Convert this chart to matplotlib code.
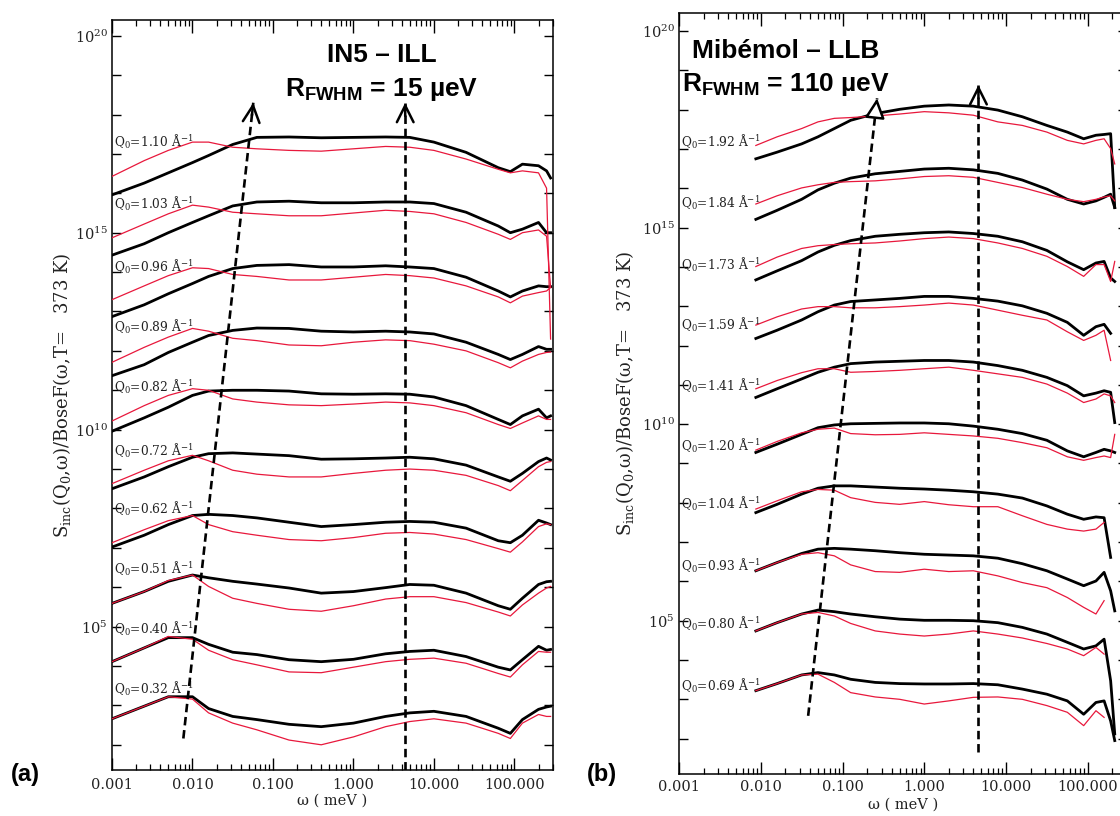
"""Two log-log panels: S_inc(Q0, w)/BoseF for IN5 (ILL) and Mibemol (LLB)."""

import matplotlib
matplotlib.use("Agg")
import matplotlib.pyplot as plt
from matplotlib.ticker import FixedLocator, FixedFormatter, FuncFormatter, LogLocator, NullFormatter, NullLocator
import numpy as np

plt.rcParams["font.family"] = ["DejaVu Serif"]
plt.rcParams["mathtext.fontset"] = "custom"
plt.rcParams["mathtext.rm"] = "DejaVu Serif"
plt.rcParams["mathtext.it"] = "DejaVu Serif:italic"
plt.rcParams["mathtext.bf"] = "Liberation Sans:bold"

# ------------------------------------------------------------
# data (log10 values)
# ------------------------------------------------------------
X_TICKS = [0.001, 0.01, 0.1, 1.0, 10.0, 100.0]
X_TICK_LABELS = ["0.001", "0.010", "0.100", "1.000", "10.000", "100.000"]

IN5_LOG_OMEGA = [-3.0, -2.6, -2.3, -2.0, -1.8, -1.5, -1.2, -0.8, -0.4, 0.0,
                 0.4, 0.7, 1.0, 1.4, 1.8, 1.95, 2.1, 2.3, 2.4, 2.45]
IN5_Q = ["1.10", "1.03", "0.96", "0.89", "0.82", "0.72", "0.62", "0.51", "0.40", "0.32"]
IN5_BLACK = [
    [15.96, 16.26, 16.52, 16.78, 16.96, 17.24, 17.42, 17.43, 17.41, 17.42, 17.43, 17.42, 17.30, 17.04, 16.65, 16.55, 16.74, 16.70, 16.57, 16.39],
    [14.43, 14.72, 15.00, 15.26, 15.43, 15.68, 15.78, 15.80, 15.76, 15.76, 15.78, 15.78, 15.74, 15.52, 15.17, 15.00, 15.09, 15.26, 15.00, 15.00],
    [12.87, 13.17, 13.45, 13.71, 13.89, 14.09, 14.17, 14.19, 14.13, 14.13, 14.16, 14.13, 14.09, 13.87, 13.52, 13.37, 13.52, 13.65, 13.63, 13.63],
    [11.37, 11.65, 11.96, 12.22, 12.39, 12.52, 12.58, 12.57, 12.50, 12.48, 12.50, 12.48, 12.43, 12.22, 11.91, 11.78, 11.91, 12.11, 12.04, 12.04],
    [9.96, 10.30, 10.57, 10.87, 10.98, 11.00, 11.00, 10.98, 10.91, 10.90, 10.91, 10.90, 10.83, 10.61, 10.26, 10.13, 10.35, 10.52, 10.30, 10.35],
    [8.50, 8.80, 9.06, 9.30, 9.39, 9.41, 9.38, 9.34, 9.25, 9.26, 9.28, 9.30, 9.26, 9.10, 8.80, 8.69, 8.89, 9.19, 9.28, 9.23],
    [7.02, 7.32, 7.59, 7.82, 7.85, 7.82, 7.76, 7.65, 7.54, 7.59, 7.65, 7.67, 7.65, 7.50, 7.18, 7.13, 7.32, 7.70, 7.63, 7.59],
    [5.59, 5.89, 6.15, 6.31, 6.24, 6.15, 6.08, 5.98, 5.85, 5.89, 5.99, 6.07, 6.05, 5.85, 5.53, 5.44, 5.72, 6.07, 6.14, 6.15],
    [4.11, 4.46, 4.72, 4.72, 4.55, 4.35, 4.29, 4.16, 4.11, 4.17, 4.31, 4.37, 4.40, 4.24, 3.97, 3.90, 4.16, 4.50, 4.40, 4.42],
    [2.66, 2.98, 3.22, 3.22, 2.92, 2.72, 2.64, 2.52, 2.46, 2.55, 2.72, 2.81, 2.85, 2.72, 2.42, 2.29, 2.64, 2.90, 2.96, 2.98],
]
IN5_RED = [
    [16.43, 16.83, 17.09, 17.30, 17.30, 17.17, 17.13, 17.09, 17.07, 17.13, 17.19, 17.17, 17.09, 16.87, 16.61, 16.52, 16.57, 16.52, 16.13, 12.30],
    [14.87, 15.22, 15.48, 15.70, 15.65, 15.52, 15.48, 15.43, 15.43, 15.50, 15.57, 15.54, 15.48, 15.26, 14.96, 14.83, 15.00, 15.07, 14.91, 13.61],
    [13.30, 13.65, 13.91, 14.11, 14.09, 13.94, 13.89, 13.80, 13.80, 13.87, 13.94, 13.91, 13.85, 13.65, 13.37, 13.22, 13.39, 13.48, 13.52, 13.61],
    [11.71, 12.09, 12.35, 12.57, 12.50, 12.32, 12.26, 12.15, 12.13, 12.22, 12.28, 12.26, 12.17, 12.00, 11.70, 11.57, 11.74, 11.91, 11.96, 11.97],
    [10.22, 10.61, 10.87, 11.04, 11.00, 10.78, 10.70, 10.63, 10.61, 10.65, 10.70, 10.68, 10.61, 10.43, 10.13, 10.03, 10.17, 10.35, 10.26, 10.26],
    [8.63, 8.97, 9.21, 9.35, 9.21, 8.97, 8.87, 8.80, 8.80, 8.89, 8.97, 9.00, 8.97, 8.84, 8.58, 8.45, 8.71, 9.06, 9.17, 9.19],
    [7.13, 7.46, 7.69, 7.82, 7.59, 7.41, 7.32, 7.21, 7.18, 7.26, 7.37, 7.39, 7.35, 7.21, 6.98, 6.89, 7.15, 7.54, 7.61, 7.59],
    [5.59, 5.89, 6.17, 6.31, 6.02, 5.72, 5.59, 5.44, 5.39, 5.53, 5.70, 5.76, 5.76, 5.61, 5.37, 5.27, 5.55, 5.85, 5.98, 6.02],
    [4.11, 4.46, 4.75, 4.68, 4.40, 4.16, 4.03, 3.85, 3.83, 3.97, 4.11, 4.17, 4.20, 4.07, 3.81, 3.72, 4.03, 4.37, 4.35, 4.35],
    [2.66, 2.98, 3.22, 3.16, 2.81, 2.55, 2.38, 2.12, 2.00, 2.20, 2.46, 2.59, 2.66, 2.55, 2.29, 2.16, 2.55, 2.77, 2.72, 2.72],
]
IN5_LABEL_LOG_S = [17.30, 15.74, 14.13, 12.61, 11.09, 9.45, 7.98, 6.46, 4.94, 3.42]

MIB_LOG_OMEGA = [-2.06, -1.8, -1.5, -1.3, -1.1, -0.9, -0.6, -0.3, 0.0, 0.3,
                 0.6, 0.9, 1.2, 1.5, 1.75, 1.95, 2.1, 2.2, 2.28, 2.33]
MIB_Q = ["1.92", "1.84", "1.73", "1.59", "1.41", "1.20", "1.04", "0.93", "0.80", "0.69"]
NAN = float("nan")
MIB_BLACK = [
    [16.75, 16.92, 17.13, 17.31, 17.52, 17.73, 17.90, 18.01, 18.09, 18.12, 18.09, 17.99, 17.82, 17.60, 17.43, 17.26, 17.35, 17.37, 17.39, 15.51],
    [15.21, 15.44, 15.72, 15.96, 16.13, 16.26, 16.37, 16.43, 16.49, 16.51, 16.47, 16.38, 16.21, 15.98, 15.72, 15.60, 15.68, 15.77, 15.85, 15.51],
    [13.67, 13.90, 14.16, 14.38, 14.55, 14.67, 14.78, 14.83, 14.87, 14.89, 14.85, 14.78, 14.64, 14.42, 14.13, 13.93, 14.10, 14.14, 13.72, 13.63],
    [12.18, 12.39, 12.65, 12.86, 13.03, 13.12, 13.16, 13.20, 13.25, 13.25, 13.20, 13.13, 13.01, 12.82, 12.59, 12.26, 12.48, 12.54, 12.31, NAN],
    [10.68, 10.90, 11.15, 11.32, 11.45, 11.54, 11.58, 11.60, 11.62, 11.62, 11.58, 11.49, 11.37, 11.19, 10.98, 10.72, 10.79, 10.85, 10.81, 10.04],
    [9.28, 9.49, 9.74, 9.91, 9.98, 10.01, 10.02, 10.03, 10.03, 10.01, 9.95, 9.87, 9.76, 9.59, 9.32, 9.17, 9.28, 9.36, 9.32, 9.28],
    [7.75, 7.96, 8.22, 8.37, 8.43, 8.43, 8.40, 8.37, 8.35, 8.32, 8.28, 8.22, 8.12, 7.92, 7.71, 7.58, 7.64, 7.62, 6.61, NAN],
    [6.27, 6.48, 6.71, 6.82, 6.84, 6.82, 6.78, 6.73, 6.69, 6.67, 6.65, 6.59, 6.45, 6.27, 6.06, 5.89, 6.01, 6.23, 5.76, 5.25],
    [4.74, 4.95, 5.17, 5.27, 5.23, 5.17, 5.10, 5.04, 5.01, 5.01, 5.00, 4.95, 4.83, 4.66, 4.45, 4.28, 4.36, 4.53, 3.47, 2.12],
    [3.22, 3.40, 3.62, 3.68, 3.62, 3.51, 3.43, 3.40, 3.39, 3.39, 3.40, 3.37, 3.26, 3.13, 2.96, 2.62, 2.92, 2.96, 2.45, 1.95],
]
MIB_RED = [
    [17.09, 17.31, 17.52, 17.69, 17.78, 17.80, 17.84, 17.89, 17.95, 17.92, 17.86, 17.69, 17.60, 17.43, 17.22, 17.13, 17.22, 17.26, 17.01, 16.62],
    [15.60, 15.81, 16.01, 16.09, 16.15, 16.17, 16.19, 16.24, 16.30, 16.32, 16.28, 16.15, 16.02, 15.85, 15.72, 15.66, 15.72, 15.78, 15.81, 15.68],
    [14.01, 14.25, 14.47, 14.54, 14.57, 14.59, 14.61, 14.66, 14.72, 14.76, 14.72, 14.61, 14.47, 14.27, 14.01, 13.76, 14.06, 14.06, 13.63, 14.14],
    [12.52, 12.73, 12.93, 12.99, 12.99, 12.96, 12.96, 12.99, 13.03, 13.08, 13.03, 12.90, 12.77, 12.65, 12.35, 12.13, 12.26, 12.39, 11.62, NAN],
    [10.90, 11.11, 11.31, 11.41, 11.41, 11.32, 11.34, 11.37, 11.41, 11.45, 11.37, 11.28, 11.19, 11.02, 10.79, 10.55, 10.64, 10.77, 10.72, 10.55],
    [9.34, 9.56, 9.78, 9.87, 9.90, 9.76, 9.73, 9.74, 9.78, 9.74, 9.70, 9.64, 9.53, 9.40, 9.17, 9.08, 9.15, 9.19, 9.15, 9.74],
    [7.84, 8.05, 8.28, 8.34, 8.32, 8.13, 8.01, 7.96, 8.03, 7.95, 7.90, 7.90, 7.67, 7.45, 7.33, 7.28, 7.33, 7.50, NAN, NAN],
    [6.27, 6.48, 6.69, 6.73, 6.65, 6.42, 6.25, 6.23, 6.31, 6.25, 6.27, 6.14, 5.97, 5.84, 5.59, 5.34, 5.17, 5.51, NAN, NAN],
    [4.74, 4.95, 5.17, 5.21, 5.12, 4.93, 4.74, 4.66, 4.61, 4.66, 4.74, 4.66, 4.56, 4.42, 4.28, 4.11, 4.32, 4.15, NAN, NAN],
    [3.22, 3.40, 3.62, 3.64, 3.43, 3.17, 3.06, 3.00, 2.88, 2.96, 3.05, 3.06, 3.00, 2.84, 2.67, 2.33, 2.71, 2.54, NAN, NAN],
]
MIB_LABEL_LOG_S = [17.18, 15.64, 14.06, 12.52, 10.98, 9.45, 7.96, 6.39, 4.91, 3.34]

# dashed guide lines: (omega, log10 S) pairs, start -> arrow tip
IN5_SLANT = ([0.0077, 0.057], [2.16, 18.30])
IN5_VERT = ([4.4, 4.4], [1.36, 18.30])
MIB_SLANT = ([0.038, 0.265], [2.58, 18.29])
MIB_VERT = ([4.6, 4.6], [1.65, 18.63])

RED = "#e8183c"
INK = "#222222"
W, H = 1120, 816


def y_formatter(value, pos):
    exponent = int(round(np.log10(value)))
    if exponent % 5 != 0:
        return ""
    return rf"$10^{{{exponent}}}$"


def dashed_arrow(ax, guide, head="->", face="black"):
    omegas, log_s = guide
    ax.plot(omegas, 10.0 ** np.asarray(log_s), color="black", linewidth=1.9,
            linestyle=(0, (3.2, 1.8)), zorder=5)
    # short solid stub only to orient the arrow head
    lx0, lx1 = np.log10(omegas)
    ly0, ly1 = log_s
    t = 0.02
    back = (10 ** (lx1 - t * (lx1 - lx0)), 10 ** (ly1 - t * (ly1 - ly0)))
    ax.annotate("", xy=(omegas[1], 10 ** ly1), xytext=back,
                arrowprops=dict(arrowstyle=f"{head},head_length=1.2,head_width=0.6",
                                lw=1.8, color="black", fc=face,
                                shrinkA=0, shrinkB=0),
                zorder=6)


def draw_panel(ax, log_omega, qs, black, red, label_log_s, ylim, xpad):
    omega = 10.0 ** np.asarray(log_omega)
    for b_curve, r_curve in zip(black, red):
        ax.plot(omega, 10.0 ** np.asarray(b_curve), color="black", linewidth=2.0, zorder=2)
        ax.plot(omega, 10.0 ** np.asarray(r_curve), color=RED, linewidth=0.9, zorder=3)
    for q, ls in zip(qs, label_log_s):
        ax.text(0.00106, 10 ** ls, rf"Q$_0$={q} Å$^{{-1}}$", fontsize=8.8,
                ha="left", va="center", color=INK, zorder=4)

    ax.set_xscale("log")
    ax.set_yscale("log")
    ax.set_xlim(1e-3, 10 ** 2.48)
    ax.set_ylim(10 ** ylim[0], 10 ** ylim[1])

    ax.xaxis.set_major_locator(FixedLocator(X_TICKS))
    ax.xaxis.set_major_formatter(FixedFormatter(X_TICK_LABELS))
    ax.xaxis.set_minor_locator(LogLocator(base=10, subs=np.arange(2, 10), numticks=20))
    ax.xaxis.set_minor_formatter(NullFormatter())
    ax.yaxis.set_major_locator(FixedLocator([10.0 ** k for k in range(1, 21)]))
    ax.yaxis.set_major_formatter(FuncFormatter(y_formatter))
    ax.yaxis.set_minor_locator(NullLocator())

    ax.tick_params(axis="x", which="major", direction="in", top=True, length=9,
                   width=1.0, pad=xpad, labelsize=10.5, labelcolor=INK)
    ax.tick_params(axis="x", which="minor", direction="in", top=True, length=4.5, width=0.9)
    ax.tick_params(axis="y", which="major", direction="in", right=True, length=6.5,
                   width=1.0, pad=3, labelsize=10.5, labelcolor=INK)
    for spine in ax.spines.values():
        spine.set_linewidth(1.1)

    ax.set_xlabel("ω ( meV )", fontsize=10.5, color=INK)
    ax.set_ylabel("S$_{\\rm inc}$(Q$_0$,ω)/BoseF(ω,T=   373 K)", fontsize=13, color=INK)


fig = plt.figure(figsize=(W / 100, H / 100), dpi=100)

ax_a = fig.add_axes([112 / W, 1 - 770 / H, 441 / W, (770 - 20) / H])
draw_panel(ax_a, IN5_LOG_OMEGA, IN5_Q, IN5_BLACK, IN5_RED, IN5_LABEL_LOG_S, (1.36, 20.40), 5.5)
dashed_arrow(ax_a, IN5_SLANT)
dashed_arrow(ax_a, IN5_VERT)
ax_a.xaxis.set_label_coords(0.5, -0.032)
ax_a.yaxis.set_label_coords(-0.088, 0.5)
ax_a.text(10 ** 0.356, 10 ** 19.50, "IN5 – ILL", ha="center", va="center",
          fontsize=19, fontweight="bold", family=["Liberation Sans"])
ax_a.text(10 ** 0.356, 10 ** 18.63, r"R$_{\bf FWHM}$ = 15 µeV", ha="center", va="center",
          fontsize=19, fontweight="bold", family=["Liberation Sans"])

ax_b = fig.add_axes([679 / W, 1 - 774 / H, 448 / W, (774 - 13) / H])
draw_panel(ax_b, MIB_LOG_OMEGA, MIB_Q, MIB_BLACK, MIB_RED, MIB_LABEL_LOG_S, (1.10, 20.46), 4.5)
dashed_arrow(ax_b, MIB_SLANT, head="-|>", face="white")
dashed_arrow(ax_b, MIB_VERT)
ax_b.xaxis.set_label_coords(0.5, -0.031)
ax_b.yaxis.set_label_coords(-0.095, 0.5)
ax_b.text(10 ** -1.69, 10 ** 19.49, "Mibémol – LLB", ha="center", va="center",
          fontsize=19, fontweight="bold", family=["Liberation Sans"])
ax_b.text(10 ** -1.69, 10 ** 18.64, r"R$_{\bf FWHM}$ = 110 µeV", ha="center", va="center",
          fontsize=19, fontweight="bold", family=["Liberation Sans"])

fig.text(25 / W, 1 - 774 / H, "(a)", ha="center", va="center", fontsize=17,
         fontweight="bold", family=["Liberation Sans"])
fig.text(602 / W, 1 - 774 / H, "(b)", ha="center", va="center", fontsize=17,
         fontweight="bold", family=["Liberation Sans"])

fig.savefig("out.png", dpi=100)
